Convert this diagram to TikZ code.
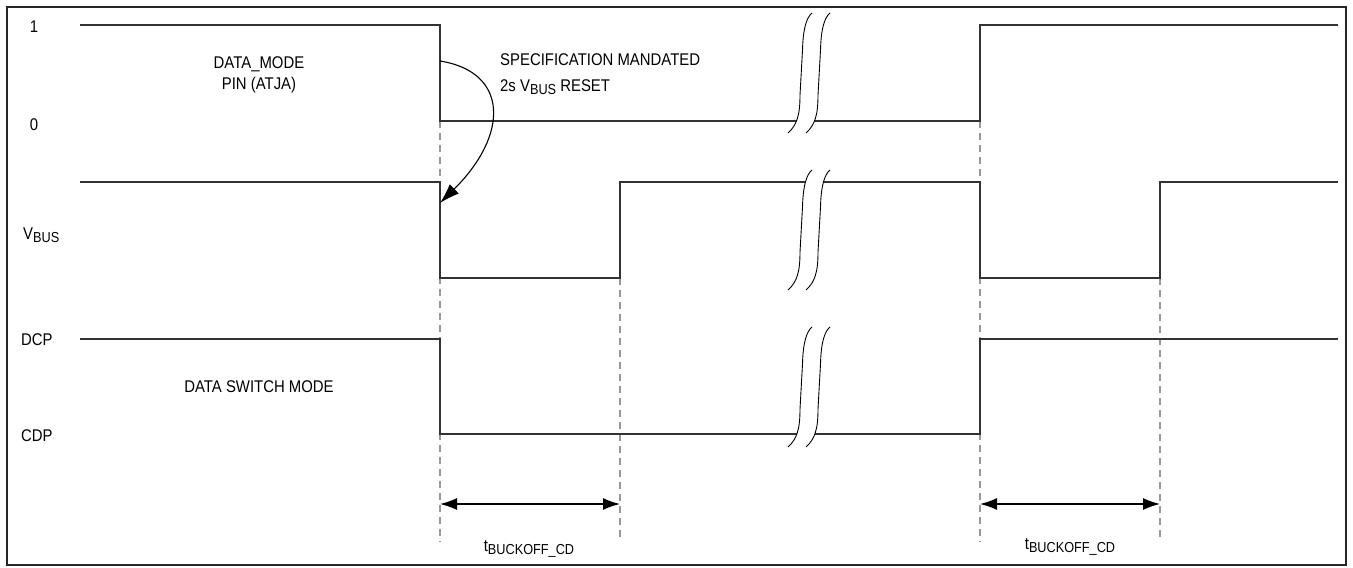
\documentclass[tikz,border=0pt]{standalone}
\usepackage{fontspec}
\setmainfont{Liberation Sans}[FakeStretch=0.88]
\usetikzlibrary{arrows.meta}
\newcommand\sbs[1]{\raisebox{-3bp}{\fontsize{14.5}{15}\selectfont #1}}
\begin{document}
\begin{tikzpicture}[x=1bp,y=-1bp,
  sig/.style={line width=1.7bp, draw=black!80, line join=miter},
  guide/.style={line width=1.1bp, draw=black!40, dash pattern=on 7bp off 5bp},
  brk/.style={line width=0.9bp, draw=black},
  lbl/.style={inner sep=0pt, anchor=base, font=\fontsize{17}{20}\selectfont},
  dim/.style={line width=1.4bp, draw=black, {Latex[length=17bp,width=12bp]}-{Latex[length=17bp,width=12bp]}},
  brkpic/.pic={
    \fill[white] (0,0) .. controls (9,-8) and (12,-18) .. (12,-38) -- (14.5,-83) .. controls (15,-103) and (18,-115) .. (24,-120)
      -- (42,-120) .. controls (36,-115) and (33,-103) .. (32.5,-83) -- (30,-38) .. controls (30,-18) and (27,-8) .. (18,0) -- cycle;
    \draw[brk] (0,0) .. controls (9,-8) and (12,-18) .. (12,-38) -- (14.5,-83) .. controls (15,-103) and (18,-115) .. (24,-120);
    \draw[brk] (18,0) .. controls (27,-8) and (30,-18) .. (30,-38) -- (32.5,-83) .. controls (33,-103) and (36,-115) .. (42,-120);
  }
]
\useasboundingbox (0,0) rectangle (1353,568);
\draw[line width=1.3bp, draw=black!85] (7,7) rectangle (1346,565);

% time markers
\coordinate (t1) at (440,0);
\coordinate (t2) at (620,0);
\coordinate (t3) at (980,0);
\coordinate (t4) at (1160,0);

% dashed guides
\draw[guide] (440,121) -- (440,542);
\draw[guide] (620,278) -- (620,542);
\draw[guide] (980,121) -- (980,542);
\draw[guide] (1160,278) -- (1160,542);

% signals
\draw[sig] (80,25) -- (440,25) -- (440,121) -- (980,121) -- (980,25) -- (1338,25);
\draw[sig] (80,182) -- (440,182) -- (440,278) -- (620,278) -- (620,182) -- (980,182) -- (980,278) -- (1160,278) -- (1160,182) -- (1338,182);
\draw[sig] (80,339) -- (440,339) -- (440,434) -- (980,434) -- (980,339) -- (1338,339);

% break marks
\pic at (788,133) {brkpic};
\pic at (788,290) {brkpic};
\pic at (788,447) {brkpic};

% curved arrow
\coordinate (cs) at (440,61);
\coordinate (ce) at (440,203);
\draw[line width=1.1bp, -{Latex[length=20bp,width=13bp]}] (cs) .. controls (509,72) and (509,135) .. (ce);

% dimension arrows
\coordinate (d1a) at (440,504);
\coordinate (d1b) at (620,504);
\coordinate (d2a) at (980,504);
\coordinate (d2b) at (1160,504);
\draw[dim] (d1a) -- (d1b);
\draw[dim] (d2a) -- (d2b);

% labels
\node[lbl] (one) at (34,33) {1};
\node[lbl] (zero) at (34,131) {0};
\node[lbl, anchor=base west] (vbus) at (23,239) {V\sbs{BUS}};
\node[lbl, anchor=base west] (dcp) at (21,345) {DCP};
\node[lbl, anchor=base west] (cdp) at (21,441) {CDP};
\node[lbl] (dm1) at (259,69) {DATA\_MODE};
\node[lbl] (dm2) at (259,90) {PIN (ATJA)};
\node[lbl, anchor=base west] (spec1) at (500,65.5) {SPECIFICATION MANDATED};
\node[lbl, anchor=base west] (spec2) at (500,92) {2s V\sbs{BUS} RESET};
\node[lbl] (dsm) at (259,392.5) {DATA SWITCH MODE};
\node[lbl] (tb1) at (529,551) {t\sbs{BUCKOFF\_CD}};
\node[lbl] (tb2) at (1070,549) {t\sbs{BUCKOFF\_CD}};
\end{tikzpicture}
\end{document}
